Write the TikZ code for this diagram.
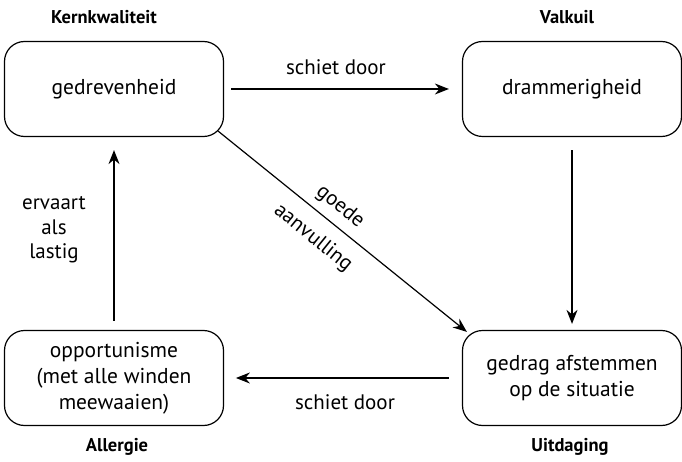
\documentclass[tikz,border=0pt]{standalone}
\usepackage{fontspec}
\setmainfont{PT Sans}
\usetikzlibrary{arrows.meta,calc}
\begin{document}
\begin{tikzpicture}[x=1pt,y=1pt,
  box/.style={draw,line width=1.2pt,rounded corners=20pt,minimum width=219pt,minimum height=95pt,align=center,font=\fontsize{21.5}{26}\selectfont,inner sep=0pt},
  ttl/.style={font=\fontsize{18.5}{22}\selectfont\bfseries},
  lbl/.style={font=\fontsize{21}{24.5}\selectfont},
  arr/.style={line width=1.2pt,-{Stealth[length=14pt,width=11pt]}}]
\useasboundingbox (0,0) rectangle (682,461);
\node[box] (kq) at (114,372) {gedrevenheid};
\node[box] (vk) at (572,372) {drammerigheid};
\node[box] (al) at (114,83) {opportunisme\\(met alle winden\\meewaaien)};
\node[box] (ud) at (572,83) {gedrag afstemmen\\op de situatie};
\node[ttl] (t1) at (104,444) {Kernkwaliteit};
\node[ttl] (t2) at (567,444) {Valkuil};
\node[ttl] (t3) at (117,14) {Allergie};
\node[ttl] (t4) at (570,14) {Uitdaging};
\draw[arr] ($(kq.east)+(7,0)$) -- ($(vk.west)+(-13,0)$);
\node[lbl] (l1) at (336,394) {schiet door};
\draw[arr] ($(vk.south)+(0,-13)$) -- ($(ud.north)+(0,6)$);
\draw[arr] ($(ud.west)+(-13,0)$) -- ($(al.west)+(232,0)$);
\node[lbl] (l2) at (345,59) {schiet door};
\draw[arr] ($(al.north)+(0,9)$) -- ($(kq.south)+(0,-13)$);
\node[lbl,align=center] (l3) at (54,231) {ervaart\\als\\lastig};
\draw[arr] ($(kq.south east)+(-6,6)$) -- ($(ud.north west)+(5,-2)$);
\node[lbl,rotate=-39] (l4) at (340,254) {goede};
\node[lbl,rotate=-39] (l5) at (313,223) {aanvulling};
\end{tikzpicture}
\end{document}
